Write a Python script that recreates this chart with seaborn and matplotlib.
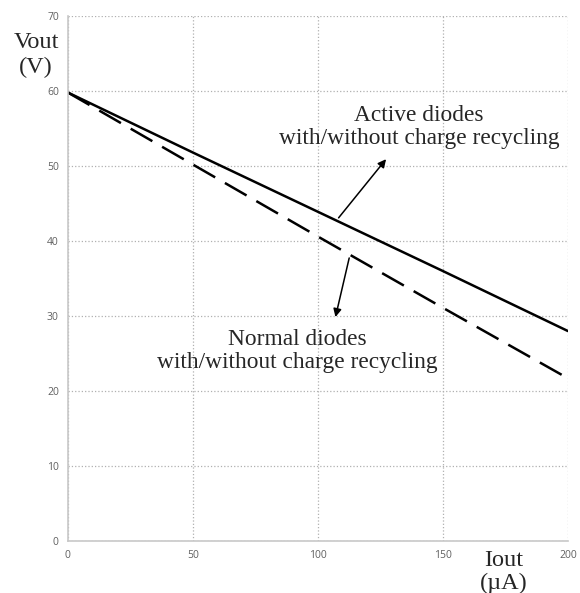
import numpy as np
import pandas as pd
import matplotlib
matplotlib.use("Agg")
import matplotlib.pyplot as plt
import seaborn as sns

# Datos
iout = [0, 50, 100, 150, 200]
vout_activos = [59.8, 51.8, 43.9, 36.0, 28.0]
vout_normales = [59.8, 50.2, 40.6, 31.1, 21.7]

x_ticks = [0, 50, 100, 150, 200]
y_ticks = [0, 10, 20, 30, 40, 50, 60, 70]

df = pd.DataFrame({
    'iout': iout * 2,
    'vout': vout_activos + vout_normales,
    'serie': ['activos'] * len(iout) + ['normales'] * len(iout),
})

sns.set_style('white')
plt.rcParams['font.family'] = ['Liberation Serif', 'DejaVu Serif']

fig = plt.figure(figsize=(5.8, 5.93), dpi=100)
ax = fig.add_axes([0.117, 0.0877, 0.862, 0.8853])

sns.lineplot(data=df[df.serie == 'activos'], x='iout', y='vout', ax=ax,
             color='black', linewidth=1.8, linestyle='-')
sns.lineplot(data=df[df.serie == 'normales'], x='iout', y='vout', ax=ax,
             color='black', linewidth=1.8, linestyle='--')
# Guiones largos como en el original
ax.lines[-1].set_dashes((10, 4.5))

ax.set_xlim(0, 200)
ax.set_ylim(0, 70)
ax.set_xticks(x_ticks)
ax.set_yticks(y_ticks)
ax.set_xlabel('')
ax.set_ylabel('')

# Rejilla punteada
ax.grid(True, linestyle=':', color='#b0b0b0', linewidth=0.9)
for s in ['top', 'right']:
    ax.spines[s].set_visible(False)
for s in ['left', 'bottom']:
    ax.spines[s].set_color('#c8c8c8')
    ax.spines[s].set_linewidth(1.2)

ax.tick_params(axis='both', labelsize=7.5, colors='#c8c8c8', labelcolor='#606060',
               length=3, width=0.8)
for lbl in ax.get_xticklabels() + ax.get_yticklabels():
    lbl.set_family(['Open Sans', 'DejaVu Sans'])

# Etiquetas de ejes
fig.text(36 / 580, 1 - 42 / 593, 'Vout', ha='center', va='center', fontsize=17.5)
fig.text(36 / 580, 1 - 67 / 593, '(V)', ha='center', va='center', fontsize=17.5)
fig.text(504 / 580, 1 - 560 / 593, 'Iout', ha='center', va='center', fontsize=17.5)
fig.text(504 / 580, 1 - 583 / 593, '(µA)', ha='center', va='center', fontsize=17.5)

# Anotaciones con flechas
ax.annotate('', xy=(128.0, 51.2), xytext=(107.6, 42.8),
            arrowprops=dict(arrowstyle='-|>', color='black', lw=1.1, mutation_scale=12))
ax.text(140.4, 55.2, 'Active diodes\nwith/without charge recycling', ha='center',
        va='center', fontsize=16.8, linespacing=1.15)

ax.annotate('', xy=(106.8, 29.5), xytext=(112.8, 38.1),
            arrowprops=dict(arrowstyle='-|>', color='black', lw=1.1, mutation_scale=12))
ax.text(91.6, 25.3, 'Normal diodes\nwith/without charge recycling', ha='center',
        va='center', fontsize=16.8, linespacing=1.15)

fig.savefig('out.png', dpi=100)
plt.close()
